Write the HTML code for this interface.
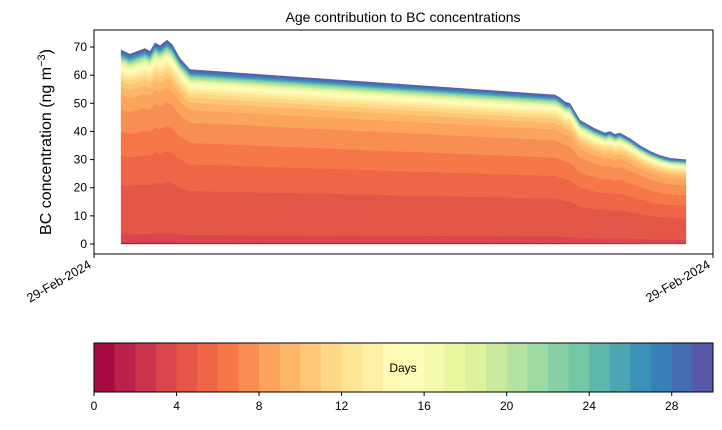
<!DOCTYPE html>
<html><head><meta charset="utf-8"><style>
body{margin:0;background:#fff;font-family:"Liberation Sans",sans-serif}
svg text{font-family:"Liberation Sans",sans-serif}
</style></head><body>
<svg id="c" width="722" height="425" viewBox="0 0 722 425"></svg>
<script>
// time (relative units) and total BC concentration
const times=[0,9,24,29,34,39,46,51,59,69,434,439,444,449,454,459,464,474,484,489,494,499,509,519,529,539,549,565];
const totals=[69,67.5,69.5,68.5,71.5,70.5,72.5,71,66,62,53,52,50.5,50,47,44,43,41,39.5,40,39,39.5,37.5,35,33,31.5,30.5,30];
// contribution of each age day (0..29), relative weights
const dayWeights=[0.3,0.15,0.15,3,17.5,10.5,8.5,8,5,3,2,1.5,1.2,1,0.8,0.7,0.6,0.5,0.45,0.4,0.4,0.35,0.35,0.3,0.3,0.35,0.4,0.45,0.45,0.5];
const yTicks=[0,10,20,30,40,50,60,70];
const cbTicks=[0,4,8,12,16,20,24,28];
const xTickLabels=["29-Feb-2024","29-Feb-2024"];

const NS="http://www.w3.org/2000/svg";
const svg=document.getElementById('c');
function mk(t,a,p){const e=document.createElementNS(NS,t);for(const k in a)e.setAttribute(k,a[k]);(p||svg).appendChild(e);return e;}
const X0=94,X1=713,Y0=30,Y1=254;
const tMin=-27,tMax=592;
const xs=t=>X0+(t-tMin)/(tMax-tMin)*(X1-X0);
const ys=v=>244-(v)*(244-47)/70;
const sp=["#9e0142","#d53e4f","#f46d43","#fdae61","#fee08b","#ffffbf","#e6f598","#abdda4","#66c2a5","#3288bd","#5e4fa2"];
function hx(h){return [1,3,5].map(i=>parseInt(h.substr(i,2),16));}
function spectral(f){const p=f*10,i=Math.min(9,Math.floor(p)),r=p-i;const a=hx(sp[i]),b=hx(sp[i+1]);return `rgb(${a.map((v,k)=>Math.round(v+(b[k]-v)*r)).join(',')})`;}
const N=dayWeights.length;const wsum=dayWeights.reduce((a,b)=>a+b,0);

mk('text',{x:403,y:22,'text-anchor':'middle','font-size':14,}).textContent='Age contribution to BC concentrations';

const g=mk('g',{});
let lower=times.map(()=>0);
for(let d=0;d<N;d++){
  const upper=times.map((t,i)=>lower[i]+totals[i]*dayWeights[d]/wsum);
  let pts=times.map((t,i)=>xs(t)+','+ys(upper[i]));
  for(let i=times.length-1;i>=0;i--)pts.push(xs(times[i])+','+ys(lower[i]));
  const p=mk('polygon',{points:pts.join(' '),fill:spectral((d+0.5)/N),stroke:spectral((d+0.5)/N),'stroke-width':0.3},g);
  
  
  lower=upper;
}
mk('rect',{x:X0,y:Y0,width:X1-X0,height:Y1-Y0,fill:'none',stroke:'#000','stroke-width':1,});
yTicks.forEach(v=>{
  mk('line',{x1:X0-4,x2:X0,y1:ys(v),y2:ys(v),stroke:'#000'});
  const t=mk('text',{x:X0-7,y:ys(v)+4,'text-anchor':'end','font-size':12});
  t.textContent=v;
  
  
});
[X0,X1].forEach((x,i)=>{
  mk('line',{x1:x,x2:x,y1:Y1,y2:Y1+4,stroke:'#000'});
  const t=mk('text',{x:x-2,y:Y1+13,'text-anchor':'end','font-size':12.5,transform:`rotate(-30 ${x-2} ${Y1+13})`});
  t.textContent=xTickLabels[i];
  
  
});
const yl=mk('text',{x:51,y:142,'text-anchor':'middle','font-size':16,transform:'rotate(-90 51 142)',});
yl.innerHTML='BC concentration (ng m<tspan dy="-6" font-size="11">−3</tspan><tspan dy="6">)</tspan>';

// colorbar
const CB0=94,CB1=713,CBy=343,CBh=49;
const cb=mk('g',{});
for(let d=0;d<N;d++){
  const r=mk('rect',{x:CB0+d*(CB1-CB0)/N,y:CBy,width:(CB1-CB0)/N+0.5,height:CBh,fill:spectral((d+0.5)/N)},cb);
  
  
}
mk('rect',{x:CB0,y:CBy,width:CB1-CB0,height:CBh,fill:'none',stroke:'#000'},cb);
mk('text',{x:403,y:372,'text-anchor':'middle','font-size':12,}).textContent='Days';
cbTicks.forEach(v=>{
  const x=CB0+v/30*(CB1-CB0);
  mk('line',{x1:x,x2:x,y1:CBy+CBh,y2:CBy+CBh+4,stroke:'#000'});
  const t=mk('text',{x:x,y:CBy+CBh+18,'text-anchor':'middle','font-size':12});
  t.textContent=v;
  
  
});
</script>
</body></html>
